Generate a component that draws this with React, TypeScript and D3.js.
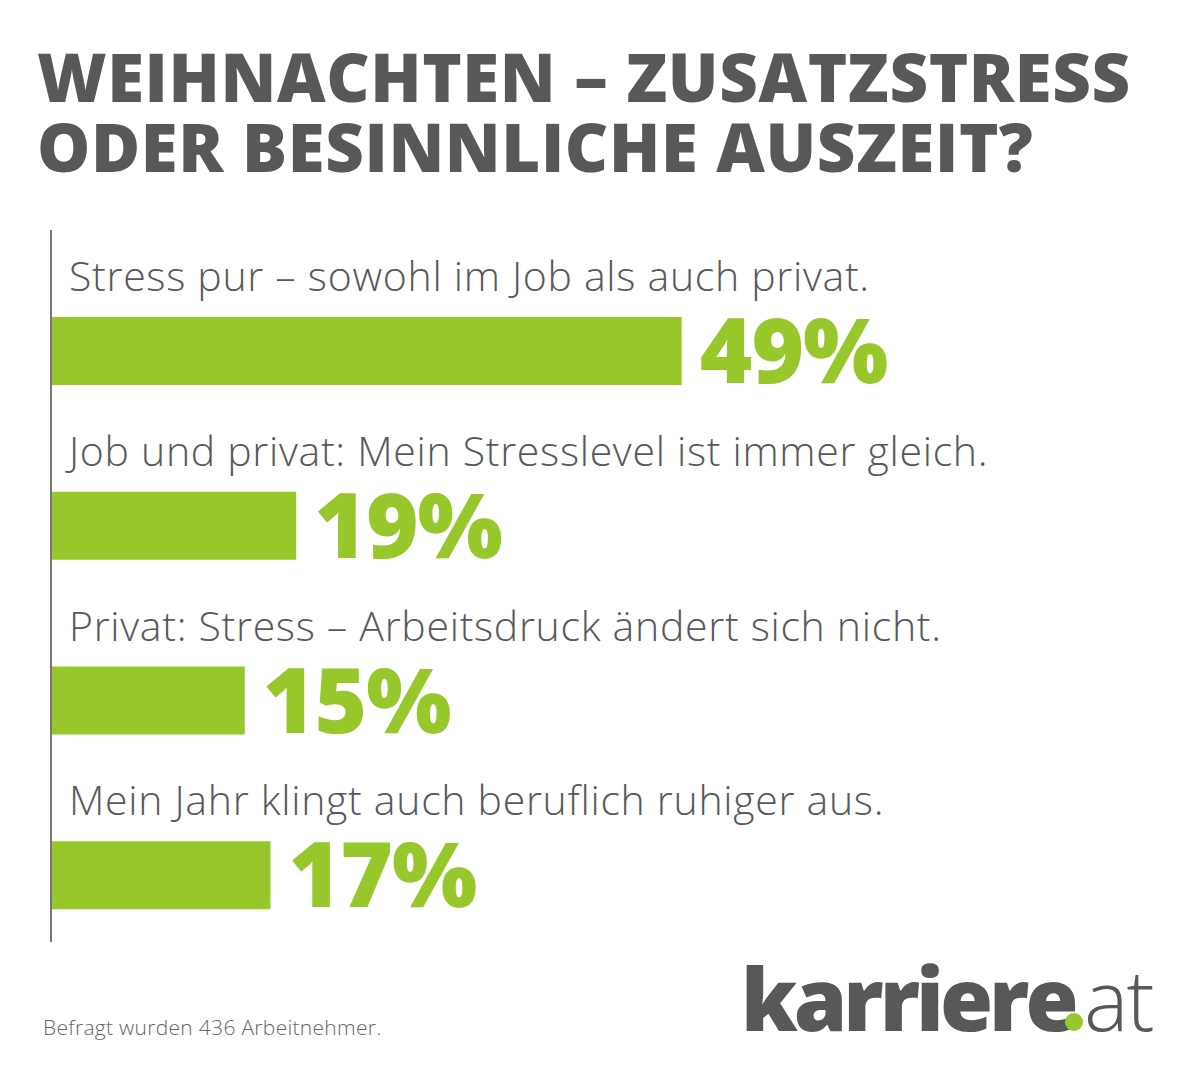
import * as d3 from "d3";

const titleLines = ["WEIHNACHTEN – ZUSATZSTRESS", "ODER BESINNLICHE AUSZEIT?"];
const categories = [
  "Stress pur – sowohl im Job als auch privat.",
  "Job und privat: Mein Stresslevel ist immer gleich.",
  "Privat: Stress – Arbeitsdruck ändert sich nicht.",
  "Mein Jahr klingt auch beruflich ruhiger aus.",
];
const values = [49, 19, 15, 17];
const footnote = "Befragt wurden 436 Arbeitnehmer.";

const width = 1200;
const height = 1080;
const green = "#97c72a";
const grey = "#58585a";
const font = "'Open Sans', Lato, sans-serif";

export default function App() {
  const x = d3.scaleLinear([0, 100], [52, 1337]);
  const y = d3.scaleBand(categories, [230, 929]);

  return (
    <svg
      width={width}
      height={height}
      style={{ position: "absolute", left: 0, top: 0, background: "#fff" }}
    >
      <rect width={width} height={height} fill="#fff" />
      {titleLines.map((t, i) => (
        <text
          key={t}
          x={37}
          y={102 + i * 70}
          fill={grey}
          fontFamily={font}
          fontWeight={800}
          fontSize={67}
          letterSpacing={0.6}
        >
          {t}
        </text>
      ))}

      <line x1={51} x2={51} y1={230} y2={942} stroke="#777" strokeWidth={2} />

      {categories.map((c, i) => (
        <g key={c}>
          <text
            x={69}
            y={y(c)! + 61}
            fill={grey}
            fontFamily={font}
            fontWeight={300}
            fontSize={41}
            letterSpacing={0.7}
          >
            {c}
          </text>
          <rect
            x={x(0)}
            y={y(c)! + 87}
            width={x(values[i]) - x(0)}
            height={68}
            fill={green}
          />
          <text
            x={x(values[i]) + 18}
            y={y(c)! + 153}
            fill={green}
            fontFamily={font}
            fontWeight={800}
            fontSize={90}
            letterSpacing={-1}
          >
            {values[i]}%
          </text>
        </g>
      ))}

      <text
        x={43}
        y={1035}
        fill="#666"
        fontFamily={font}
        fontWeight={300}
        fontSize={21}
        letterSpacing={0.3}
      >
        {footnote}
      </text>

      <g fontFamily={font} fontSize={86}>
        <text x={741} y={1031} fill={grey} fontWeight={800} letterSpacing={-4}>
          karriere
        </text>
        <circle cx={1074} cy={1022} r={9} fill={green} />
        <text x={1084} y={1031} fill={grey} fontWeight={300} fontSize={84} letterSpacing={-2}>
          at
        </text>
      </g>
    </svg>
  );
}
